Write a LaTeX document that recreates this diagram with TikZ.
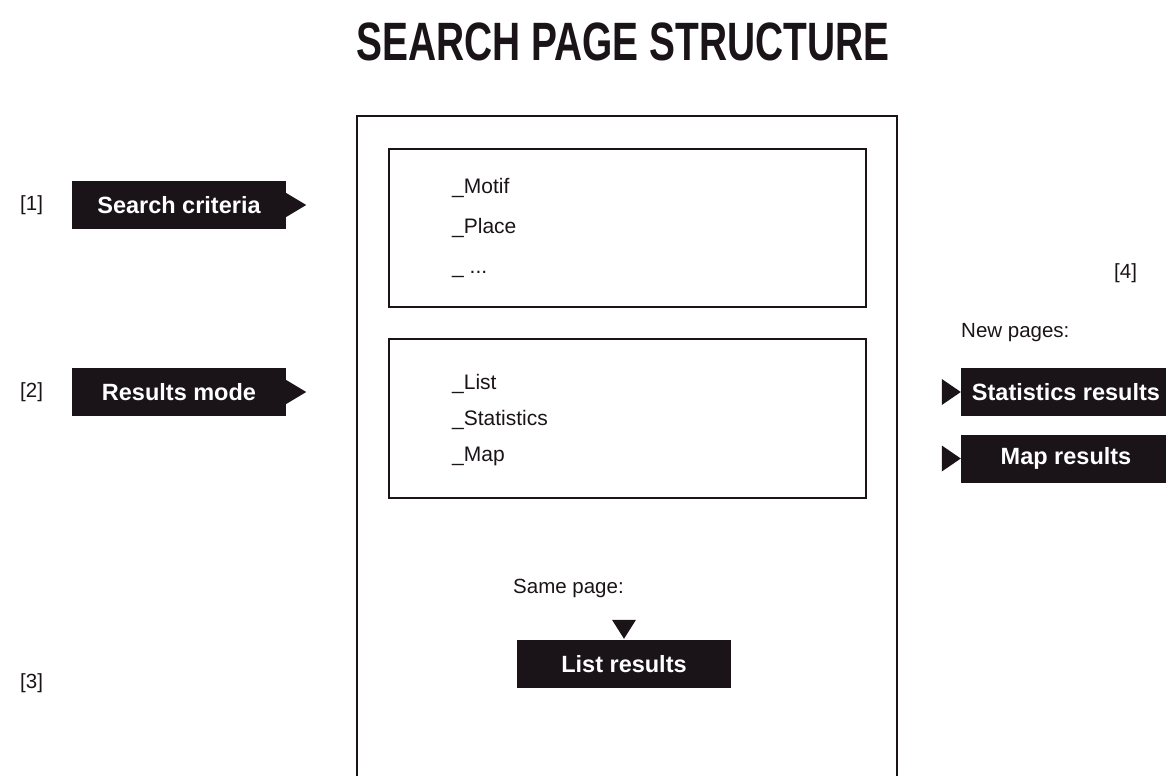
\documentclass[tikz,border=0pt]{standalone}
\usepackage{fontspec}
\setmainfont{Liberation Sans}
\newfontfamily\titlefont{Liberation Sans}[FakeStretch=0.72]
\definecolor{ink}{RGB}{26,20,24}
\begin{document}
\begin{tikzpicture}[x=1pt,y=-1pt,
  frame/.style={draw=ink,line width=2.6pt},
  blackbox/.style={fill=ink,text=white,font=\fontsize{23.5}{26}\selectfont\bfseries,minimum width=214pt,minimum height=48pt,inner sep=0pt},
  item/.style={anchor=base west,text=ink,font=\fontsize{21}{24}\selectfont,inner sep=0pt},
  note/.style={anchor=west,text=ink,font=\fontsize{20.5}{24}\selectfont,inner sep=0pt},
  tri/.style={fill=ink}]
\useasboundingbox (0,0) rectangle (1166,776);
% title
\node[text=ink,font=\titlefont\fontsize{54}{60}\selectfont\bfseries,inner sep=0pt] (title) at (623,42) {SEARCH PAGE STRUCTURE};
% outer page frame
\coordinate (obl) at (357,776);
\coordinate (otl) at (357,116);
\coordinate (otr) at (897,116);
\coordinate (obr) at (897,776);
\draw[frame] (obl) -- (otl) -- (otr) -- (obr);
% inner boxes
\node[frame,minimum width=477pt,minimum height=158pt,inner sep=0pt] (crit) at (627.5,228) {};
\node[frame,minimum width=477pt,minimum height=159pt,inner sep=0pt] (mode) at (627.5,418.5) {};
\node[item] (motif) at (452,193) {\_Motif};
\node[item] (place) at (452,233) {\_Place};
\node[item] (etc) at (452,273) {\_ ...};
\node[item] (list) at (452,389) {\_List};
\node[item] (stats) at (452,425) {\_Statistics};
\node[item] (map) at (452,461) {\_Map};
% left labels
\node[note] (n1) at (20,205) {[1]};
\node[note] (n2) at (20,392) {[2]};
\node[note] (n3) at (20,683) {[3]};
\node[blackbox] (sc) at (179,205) {Search criteria};
\node[blackbox] (rm) at (179,392) {Results mode};
\fill[tri] (sc.east) ++(0,-12) -- ++(20,12) -- ++(-20,12) -- cycle;
\fill[tri] (rm.east) ++(0,-12) -- ++(20,12) -- ++(-20,12) -- cycle;
% right side
\node[note] (n4) at (1114,273) {[4]};
\node[note] (np) at (961,333) {New pages:};
\node[blackbox,minimum width=210pt] (sr) at (1066,392) {Statistics results};
\node[blackbox,minimum width=210pt] (mr) at (1066,458.5) {Map results};
\fill[tri] (sr.west) ++(-19,-13) -- ++(19,13) -- ++(-19,13) -- cycle;
\fill[tri] (mr.west) ++(-19,-13) -- ++(19,13) -- ++(-19,13) -- cycle;
% same page
\node[note] (sp) at (513,588) {Same page:};
\node[blackbox] (lr) at (624,664) {List results};
\fill[tri] (lr.north) ++(-12,-20) -- ++(24,0) -- ++(-12,19) -- cycle;
\end{tikzpicture}
\end{document}
